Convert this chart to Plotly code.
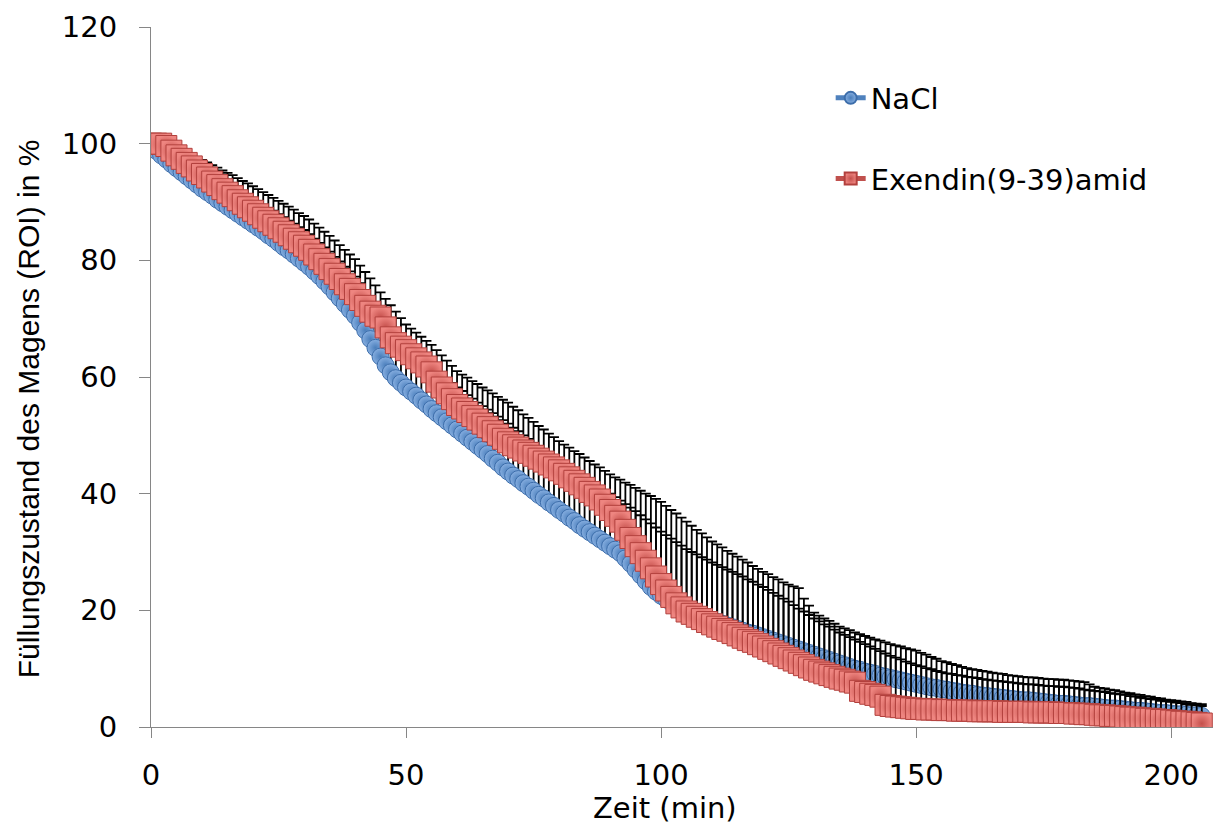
import numpy as np
import plotly.graph_objects as go

# time in minutes (one sample per minute)
time_min = list(range(0, 207))

nacl_mean = [
    99.5, 98.8, 98.0, 97.3, 96.5, 95.8, 95.1, 94.4, 93.7, 93.0,
    92.3, 91.7, 91.1, 90.4, 89.8, 89.2, 88.6, 88.0, 87.4, 86.8,
    86.2, 85.6, 85.0, 84.3, 83.7, 83.0, 82.3, 81.7, 81.0, 80.3,
    79.6, 78.9, 78.1, 77.3, 76.4, 75.5, 74.5, 73.5, 72.5, 71.5,
    70.5, 69.3, 68.0, 66.5, 65.0, 63.5, 62.0, 60.8, 59.8, 59.0,
    58.2, 57.5, 56.8, 56.0, 55.3, 54.5, 53.8, 53.1, 52.4, 51.7,
    51.0, 50.3, 49.6, 48.9, 48.2, 47.5, 46.8, 46.0, 45.3, 44.5,
    43.8, 43.1, 42.5, 41.8, 41.2, 40.5, 39.8, 39.2, 38.5, 37.9,
    37.2, 36.6, 35.9, 35.3, 34.6, 34.0, 33.4, 32.8, 32.2, 31.6,
    31.0, 30.4, 29.8, 28.9, 28.0, 27.0, 26.0, 25.0, 24.0, 23.2,
    22.5, 21.9, 21.3, 20.9, 20.4, 20.0, 19.7, 19.3, 19.0, 18.6,
    18.3, 18.0, 17.7, 17.4, 17.1, 16.8, 16.5, 16.2, 16.0, 15.7,
    15.4, 15.1, 14.8, 14.5, 14.2, 13.9, 13.6, 13.3, 13.0, 12.7,
    12.4, 12.1, 11.8, 11.5, 11.2, 10.9, 10.6, 10.3, 10.0, 9.8,
    9.5, 9.3, 9.1, 8.8, 8.6, 8.4, 8.2, 8.0, 7.8, 7.6,
    7.4, 7.2, 7.0, 6.8, 6.7, 6.5, 6.4, 6.2, 6.1, 5.9,
    5.8, 5.7, 5.5, 5.4, 5.3, 5.2, 5.1, 5.0, 4.9, 4.8,
    4.7, 4.6, 4.6, 4.5, 4.4, 4.3, 4.2, 4.1, 4.0, 4.0,
    3.9, 3.8, 3.7, 3.6, 3.6, 3.5, 3.4, 3.3, 3.2, 3.2,
    3.1, 3.0, 2.9, 2.8, 2.8, 2.7, 2.6, 2.5, 2.4, 2.4,
    2.3, 2.2, 2.2, 2.1, 2.0, 2.0, 1.9,
]

# upper end of the NaCl error bars (read from the caps)
nacl_upper = [
    99.5, 99.3, 99.0, 98.6, 98.1, 97.5, 97.1, 96.6, 96.2, 95.7,
    95.3, 94.8, 94.4, 93.9, 93.4, 92.9, 92.5, 92.0, 91.5, 91.1,
    90.6, 90.1, 89.5, 89.0, 88.5, 87.9, 87.4, 86.8, 86.3, 85.7,
    85.2, 84.5, 83.7, 83.0, 82.2, 81.5, 80.6, 79.8, 78.9, 78.1,
    77.2, 76.1, 74.9, 73.8, 72.6, 71.5, 70.4, 69.4, 68.3, 67.3,
    66.2, 65.4, 64.5, 63.7, 62.8, 62.0, 61.2, 60.5, 59.7, 59.0,
    58.2, 57.6, 56.9, 56.3, 55.6, 55.0, 54.4, 53.8, 53.2, 52.6,
    52.0, 51.3, 50.7, 50.0, 49.4, 48.7, 48.1, 47.5, 46.8, 46.2,
    45.6, 45.0, 44.5, 43.9, 43.4, 42.8, 42.2, 41.7, 41.1, 40.6,
    40.0, 39.4, 38.8, 38.2, 37.6, 37.0, 36.3, 35.6, 34.9, 34.2,
    33.5, 32.9, 32.3, 31.7, 31.1, 30.5, 30.0, 29.6, 29.1, 28.7,
    28.2, 27.8, 27.4, 27.0, 26.6, 26.2, 25.8, 25.3, 24.9, 24.4,
    24.0, 23.5, 23.0, 22.5, 22.0, 21.5, 20.9, 20.3, 19.8, 19.2,
    18.6, 18.1, 17.6, 17.2, 16.7, 16.2, 15.8, 15.4, 15.0, 14.6,
    14.2, 13.8, 13.4, 13.0, 12.6, 12.2, 11.9, 11.6, 11.2, 10.9,
    10.6, 10.4, 10.1, 9.9, 9.6, 9.4, 9.2, 9.1, 8.9, 8.8,
    8.6, 8.5, 8.4, 8.2, 8.1, 8.0, 7.9, 7.8, 7.7, 7.6,
    7.5, 7.4, 7.3, 7.3, 7.2, 7.1, 7.0, 7.0, 6.9, 6.9,
    6.8, 6.7, 6.6, 6.4, 6.3, 6.2, 6.1, 6.0, 5.8, 5.7,
    5.6, 5.5, 5.3, 5.2, 5.0, 4.9, 4.8, 4.7, 4.5, 4.4,
    4.3, 4.2, 4.1, 3.9, 3.8, 3.7, 3.6,
]

exendin_mean = [
    100.0, 100.0, 100.0, 99.6, 98.8, 98.0, 97.4, 96.7, 96.1, 95.4,
    94.8, 94.2, 93.5, 92.9, 92.2, 91.6, 91.0, 90.3, 89.7, 89.1,
    88.5, 87.9, 87.3, 86.7, 86.1, 85.5, 84.9, 84.3, 83.7, 83.1,
    82.5, 81.8, 81.0, 80.2, 79.4, 78.5, 77.7, 76.8, 75.9, 75.1,
    74.2, 73.2, 72.2, 71.2, 70.5, 70.2, 68.5, 66.8, 65.8, 65.2,
    64.6, 63.9, 63.2, 62.5, 61.8, 60.8, 59.2, 58.2, 57.2, 56.2,
    55.2, 54.6, 54.0, 53.3, 52.7, 52.0, 51.4, 50.7, 50.1, 49.4,
    48.8, 48.3, 47.9, 47.4, 47.0, 46.5, 46.0, 45.5, 45.0, 44.5,
    44.0, 43.4, 42.8, 42.2, 41.6, 41.0, 40.3, 39.7, 39.0, 38.1,
    37.2, 36.2, 35.2, 33.8, 32.4, 31.0, 29.8, 28.5, 27.2, 25.8,
    24.5, 23.4, 22.3, 21.2, 20.5, 19.8, 19.4, 18.9, 18.5, 18.0,
    17.6, 17.2, 16.8, 16.5, 16.1, 15.7, 15.3, 14.9, 14.6, 14.2,
    13.8, 13.4, 13.0, 12.6, 12.2, 11.8, 11.4, 11.0, 10.6, 10.2,
    9.8, 9.5, 9.2, 8.9, 8.6, 8.3, 8.1, 7.8, 7.6, 6.2,
    6.0, 5.7, 5.5, 5.2, 3.8, 3.6, 3.5, 3.4, 3.3, 3.2,
    3.1, 3.1, 3.0, 3.0, 3.0, 2.9, 2.9, 2.9, 2.8, 2.8,
    2.8, 2.8, 2.7, 2.7, 2.7, 2.7, 2.7, 2.6, 2.6, 2.6,
    2.6, 2.6, 2.6, 2.5, 2.5, 2.5, 2.5, 2.5, 2.4, 2.4,
    2.4, 2.3, 2.3, 2.2, 2.2, 2.1, 2.0, 2.0, 1.9, 1.9,
    1.8, 1.7, 1.6, 1.6, 1.5, 1.4, 1.4, 1.3, 1.2, 1.2,
    1.1, 1.0, 0.9, 0.9, 0.8, 0.7, 0.6,
]

# upper end of the Exendin(9-39)amid error bars (read from the caps)
exendin_upper = [
    100.0, 100.3, 100.4, 100.5, 100.0, 99.2, 98.8, 98.4, 98.0, 97.6,
    97.2, 96.8, 96.3, 95.9, 95.4, 95.0, 94.6, 94.1, 93.6, 93.2,
    92.7, 92.2, 91.7, 91.2, 90.7, 90.2, 89.7, 89.2, 88.7, 88.1,
    87.6, 87.0, 86.3, 85.6, 84.9, 84.2, 83.4, 82.6, 81.8, 81.0,
    80.2, 79.1, 78.0, 76.9, 75.7, 74.5, 73.4, 72.3, 71.2, 70.1,
    69.0, 68.3, 67.6, 66.9, 66.2, 65.5, 64.6, 63.7, 62.8, 61.9,
    61.0, 60.4, 59.9, 59.3, 58.8, 58.2, 57.7, 57.2, 56.6, 56.1,
    55.6, 54.9, 54.3, 53.6, 53.0, 52.3, 51.6, 51.0, 50.3, 49.7,
    49.0, 48.4, 47.9, 47.3, 46.8, 46.2, 45.6, 45.0, 44.5, 43.9,
    43.3, 42.8, 42.4, 41.9, 41.5, 41.0, 40.5, 40.0, 39.6, 39.1,
    38.6, 37.9, 37.2, 36.6, 35.9, 35.2, 34.5, 33.8, 33.2, 32.5,
    31.8, 31.3, 30.8, 30.2, 29.7, 29.2, 28.7, 28.2, 27.6, 27.1,
    26.6, 26.2, 25.7, 25.3, 24.8, 24.4, 24.1, 23.8, 22.0, 20.8,
    19.6, 19.1, 18.6, 18.2, 17.7, 17.2, 16.9, 16.6, 16.2, 15.9,
    15.6, 15.3, 15.0, 14.8, 14.5, 14.2, 14.0, 13.8, 13.5, 13.3,
    13.1, 12.7, 12.4, 12.0, 11.7, 11.3, 11.1, 10.8, 10.6, 10.3,
    10.1, 9.9, 9.8, 9.6, 9.5, 9.3, 9.2, 9.1, 8.9, 8.8,
    8.7, 8.6, 8.5, 8.5, 8.4, 8.3, 8.2, 8.2, 8.1, 8.1,
    8.0, 7.9, 7.8, 7.7, 7.3, 6.9, 6.7, 6.6, 6.4, 6.3,
    6.1, 5.9, 5.8, 5.6, 5.5, 5.3, 5.2, 5.0, 4.9, 4.7,
    4.6, 4.5, 4.4, 4.3, 4.1, 4.0, 3.9,
]

x_ticks = [0, 50, 100, 150, 200]
y_ticks = [0, 20, 40, 60, 80, 100, 120]
series_names = ["NaCl", "Exendin(9-39)amid"]

HFONT = "DejaVu Sans, Liberation Sans, Arial, sans-serif"
VFONT = "Liberation Sans, Arial, sans-serif"

nacl_err = np.clip(np.array(nacl_upper) - np.array(nacl_mean), 0, None)
ex_err = np.clip(np.array(exendin_upper) - np.array(exendin_mean), 0, None)

fig = go.Figure()
fig.add_trace(go.Scatter(
    x=time_min, y=nacl_mean, name=series_names[0], legendgroup="a",
    mode="lines+markers",
    line=dict(color="#4F81BD", width=3.5),
    marker=dict(symbol="circle", size=17, color="#86AEE0",
                gradient=dict(type="radial", color="#4A7EBB"),
                line=dict(color="#3C6DAA", width=1)),
    error_y=dict(type="data", array=nacl_err, arrayminus=[0] * len(time_min),
                 symmetric=False, color="black", thickness=1.8, width=5),
))
fig.add_trace(go.Scatter(
    x=time_min, y=exendin_mean, name=series_names[1], legendgroup="b",
    mode="lines+markers",
    line=dict(color="#C0504D", width=3.5),
    marker=dict(symbol="square", size=21, color="#EE8580",
                gradient=dict(type="radial", color="#C44F4B"),
                line=dict(color="#B2403D", width=1)),
    error_y=dict(type="data", array=ex_err, arrayminus=[0] * len(time_min),
                 symmetric=False, color="black", thickness=1.8, width=5),
))

axis_common = dict(
    showgrid=False, zeroline=False, showline=True, linecolor="#868686",
    linewidth=1, ticks="outside", tickcolor="#868686", tickwidth=1,
    tickfont=dict(family=HFONT, size=29, color="black"),
)

fig.update_xaxes(range=[0, 208.2], tickvals=x_ticks, ticklen=10,
                 ticklabelstandoff=12, **axis_common)
fig.update_yaxes(range=[0, 120], tickvals=y_ticks, ticklen=11,
                 ticklabelstandoff=16, **axis_common)

fig.update_layout(
    width=1216, height=830, autosize=False,
    margin=dict(l=151, r=3, t=27, b=103),
    plot_bgcolor="white", paper_bgcolor="white",
    font=dict(family=HFONT, size=29, color="black"),
    showlegend=True,
    legend=dict(x=0.64, y=0.935, xanchor="left", yanchor="top",
                bgcolor="rgba(0,0,0,0)", tracegroupgap=40, itemsizing="constant",
                font=dict(family=HFONT, size=29, color="black")),
    annotations=[
        dict(text="Zeit (min)", x=0.484, y=-0.116, xref="paper", yref="paper",
             xanchor="center", yanchor="middle", showarrow=False,
             font=dict(family=HFONT, size=29, color="black")),
        dict(text="Füllungszustand des Magens (ROI) in %", x=-0.1158, y=0.454,
             xref="paper", yref="paper", textangle=-90,
             xanchor="center", yanchor="middle", showarrow=False,
             font=dict(family=VFONT, size=30, color="black")),
    ],
)

fig.write_html("out.html")
